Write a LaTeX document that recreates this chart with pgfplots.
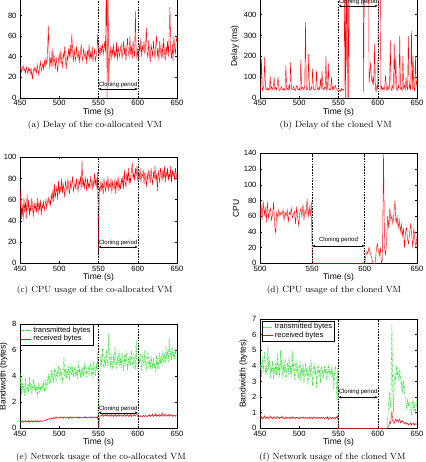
\documentclass[border=0pt]{standalone}
\usepackage{fontspec}
\usepackage{pgfplots}
\pgfplotsset{compat=1.18}
\usetikzlibrary{arrows.meta}
\newfontfamily\hv{Liberation Sans}
\definecolor{mred}{rgb}{1,0,0}
\definecolor{mgreen}{rgb}{0.2,0.9,0.2}
\pgfplotsset{mat/.style={
  scale only axis, width=157pt, xmin=450, xmax=650, ymin=0,
  xtick={450,500,550,600,650},
  tick align=inside, major tick length=2pt,
  axis line style={line width=0.4pt},
  every tick/.style={line width=0.4pt, black},
  ticklabel style={font=\hv\fontsize{7.6}{8}\selectfont},
  /pgf/number format/assume math mode=true,
  label style={font=\hv\fontsize{8.5}{9}\selectfont},
  xlabel={Time (s)},
  xlabel style={yshift=4.5pt},
  xticklabel style={yshift=1pt},
  ylabel style={yshift=-2pt},
  clip=true, scaled ticks=false,
  legend image code/.code={\draw[#1] (0pt,0pt) -- (10pt,0pt);},
}}
\tikzset{
  vline/.style={line width=0.4pt, dash pattern=on 1.6pt off 1.2pt},
  carr/.style={line width=0.4pt, {Stealth[length=3pt,width=2.4pt]}-{Stealth[length=3pt,width=2.4pt]}},
  clab/.style={font=\hv\fontsize{6}{6}\selectfont, inner sep=0.8pt, anchor=south},
  red line/.style={mred, line width=0.42pt},
  green line/.style={mgreen, line width=0.55pt, dash pattern=on 2.5pt off 1pt on 0.6pt off 1pt},
  capt/.style={font=\fontsize{9}{10}\selectfont},
  ex/.style={font=\hv\fontsize{6}{6}\selectfont, anchor=south west, inner sep=0.5pt},
}
\begin{document}
\begin{tikzpicture}
\useasboundingbox (0pt,0pt) rectangle (425pt,462pt);
\clip (0pt,0pt) rectangle (425pt,462pt);

% (a)
\begin{axis}[mat, at={(20pt,364.2pt)}, anchor=south west, height=103pt, ymax=100,
  ytick={0,20,40,60,80,100}, ylabel={Delay (ms)}]
\addplot[red line] coordinates {
(450,27)(451,30)(452,25)(453,29)(454,31)(455,26)(456,28)(457,24)(458,30)(459,27)
(460,23)(461,29)(462,26)(463,28)(464,22)(465,27)(466,18)(467,25)(468,30)(469,26)
(470,28)(471,24)(472,32)(473,27)(474,22)(475,30)(476,35)(477,26)(478,29)(479,33)
(480,28)(481,36)(482,30)(483,38)(484,33)(485,40)(486,70)(487,45)(488,28)(489,38)
(490,33)(491,48)(492,30)(493,42)(494,36)(495,28)(496,40)(497,32)(498,25)(499,37)
(500,42)(501,33)(502,46)(503,35)(504,30)(505,44)(506,38)(507,50)(508,34)(509,28)
(510,41)(511,36)(512,48)(513,40)(514,52)(515,38)(516,62)(517,45)(518,35)(519,48)
(520,40)(521,36)(522,50)(523,42)(524,38)(525,46)(526,34)(527,44)(528,52)(529,40)
(530,36)(531,48)(532,42)(533,38)(534,45)(535,33)(536,46)(537,40)(538,52)(539,36)
(540,44)(541,38)(542,50)(543,35)(544,42)(545,47)(546,36)(547,40)(548,45)(549,62)
(550,44)(551,48)(552,40)(553,50)(554,45)(555,52)(556,42)(557,48)(558,55)(559,44)
(560,130)(561,0)(562,125)(563,15)(564,40)(565,50)(566,36)(567,48)(568,42)(569,52)
(570,38)(571,46)(572,40)(573,54)(574,36)(575,50)(576,44)(577,40)(578,48)(579,52)
(580,38)(581,45)(582,55)(583,42)(584,50)(585,36)(586,48)(587,58)(588,44)(589,40)
(590,60)(591,42)(592,50)(593,38)(594,55)(595,45)(596,40)(597,84)(598,44)(599,38)
(600,48)(601,36)(602,52)(603,44)(604,58)(605,40)(606,50)(607,46)(608,55)(609,42)
(610,50)(611,68)(612,45)(613,38)(614,56)(615,42)(616,35)(617,52)(618,46)(619,40)
(620,55)(621,44)(622,38)(623,52)(624,60)(625,40)(626,48)(627,36)(628,55)(629,45)
(630,40)(631,52)(632,38)(633,58)(634,44)(635,36)(636,50)(637,42)(638,55)(639,40)
(640,62)(641,88)(642,45)(643,38)(644,52)(645,35)(646,60)(647,48)(648,42)(649,58)
(650,55)};
\draw[vline] (axis cs:550,0) -- (axis cs:550,100);
\draw[vline] (axis cs:600,0) -- (axis cs:600,100);
\draw[carr] (axis cs:550,8.5) -- (axis cs:600,8.5) node[clab, midway] {Cloning period};
\end{axis}

% (b)
\begin{axis}[mat, at={(260pt,364.2pt)}, anchor=south west, height=104pt, ymax=500,
  ytick={0,100,200,300,400,500}, ylabel={Delay (ms)}]
\addplot[red line] coordinates {
(450,40)(451,50)(452,185)(453,35)(454,45)(455,60)(456,195)(457,42)(458,38)(459,50)
(460,35)(461,45)(462,40)(463,105)(464,38)(465,55)(466,40)(467,45)(468,100)(469,40)
(470,50)(471,38)(472,60)(473,100)(474,45)(475,35)(476,40)(477,55)(478,42)(479,38)
(480,45)(481,35)(482,50)(483,155)(484,40)(485,45)(486,38)(487,60)(488,40)(489,170)
(490,45)(491,40)(492,38)(493,55)(494,40)(495,35)(496,48)(497,60)(498,42)(499,38)
(500,45)(501,35)(502,185)(503,40)(504,50)(505,42)(506,38)(507,60)(508,365)(509,40)
(510,38)(511,45)(512,210)(513,40)(514,35)(515,50)(516,42)(517,140)(518,45)(519,38)
(520,40)(521,38)(522,130)(523,45)(524,35)(525,50)(526,42)(527,90)(528,40)(529,130)
(530,45)(531,38)(532,50)(533,42)(534,200)(535,35)(536,45)(537,165)(538,40)(539,38)
(540,42)(541,100)(542,38)(543,55)(544,40)(545,50)(546,60)(547,45)(548,40)(549,35)
(550,38)(551,35)(552,40)(553,30)(554,45)(555,38)(556,40)(557,35)(558,600)(559,0)
(560,650)(561,0)(562,620)(563,0)(564,700)(565,800)(566,900)(567,1000)(568,900)(569,800)
(570,900)(575,900)(580,900)(581,800)(582,30)(583,700)(584,900)(585,800)(586,900)(587,850)
(588,800)(589,70)(590,120)(591,170)(592,90)(593,70)(594,100)(595,60)(596,260)(597,40)
(598,30)(599,60)(600,40)(601,600)(602,800)(603,650)(604,35)(605,55)(606,40)(607,50)
(608,35)(609,60)(610,110)(611,45)(612,35)(613,60)(614,40)(615,50)(616,275)(617,40)
(618,35)(619,60)(620,45)(621,265)(622,50)(623,200)(624,40)(625,35)(626,60)(627,45)
(628,300)(629,40)(630,50)(631,35)(632,200)(633,45)(634,60)(635,38)(636,100)(637,50)
(638,40)(639,295)(640,45)(641,60)(642,35)(643,320)(644,40)(645,200)(646,50)(647,35)
(648,200)(649,60)(650,80)};
\draw[vline] (axis cs:550,0) -- (axis cs:550,500);
\draw[vline] (axis cs:600,0) -- (axis cs:600,500);
\draw[carr] (axis cs:550,442) -- (axis cs:600,442) node[clab, midway] {Cloning period};
\end{axis}

% (c)
\begin{axis}[mat, at={(20pt,198.7pt)}, anchor=south west, height=106pt, ymax=100,
  ytick={0,20,40,60,80,100}, ylabel={CPU}]
\addplot[red line] coordinates {
(450,45)(451,70)(452,42)(453,55)(454,40)(455,62)(456,48)(457,58)(458,42)(459,65)
(460,50)(461,60)(462,45)(463,55)(464,48)(465,62)(466,52)(467,44)(468,58)(469,50)
(470,55)(471,48)(472,62)(473,46)(474,58)(475,50)(476,60)(477,45)(478,55)(479,52)
(480,58)(481,50)(482,55)(483,60)(484,52)(485,58)(486,62)(487,56)(488,60)(489,55)
(490,65)(491,60)(492,70)(493,58)(494,75)(495,62)(496,68)(497,72)(498,60)(499,78)
(500,65)(501,72)(502,68)(503,80)(504,66)(505,75)(506,70)(507,62)(508,78)(509,72)
(510,68)(511,80)(512,72)(513,65)(514,78)(515,70)(516,75)(517,82)(518,68)(519,72)
(520,76)(521,70)(522,80)(523,72)(524,68)(525,78)(526,74)(527,82)(528,70)(529,97)
(530,72)(531,78)(532,70)(533,82)(534,75)(535,68)(536,80)(537,72)(538,76)(539,70)
(540,82)(541,75)(542,70)(543,78)(544,72)(545,85)(546,74)(547,80)(548,70)(549,86)
(550,5)(551,72)(552,68)(553,78)(554,70)(555,75)(556,65)(557,80)(558,72)(559,68)
(560,78)(561,70)(562,82)(563,68)(564,75)(565,72)(566,80)(567,66)(568,78)(569,72)
(570,70)(571,80)(572,65)(573,78)(574,72)(575,82)(576,68)(577,76)(578,70)(579,80)
(580,74)(581,82)(582,70)(583,88)(584,76)(585,72)(586,85)(587,78)(588,90)(589,74)
(590,82)(591,76)(592,88)(593,95)(594,80)(595,85)(596,78)(597,90)(598,82)(599,92)
(600,78)(601,85)(602,80)(603,90)(604,76)(605,84)(606,82)(607,88)(608,75)(609,86)
(610,80)(611,72)(612,85)(613,78)(614,88)(615,82)(616,76)(617,90)(618,80)(619,74)
(620,86)(621,80)(622,92)(623,78)(624,84)(625,68)(626,88)(627,82)(628,76)(629,90)
(630,84)(631,78)(632,88)(633,80)(634,92)(635,76)(636,86)(637,82)(638,90)(639,78)
(640,85)(641,80)(642,92)(643,76)(644,88)(645,82)(646,86)(647,78)(648,90)(649,84)
(650,80)};
\draw[vline] (axis cs:550,0) -- (axis cs:550,100);
\draw[vline] (axis cs:600,0) -- (axis cs:600,100);
\draw[carr] (axis cs:550,15.4) -- (axis cs:600,15.4) node[clab, midway] {Cloning period};
\end{axis}

% (d)
\begin{axis}[mat, at={(260pt,198.7pt)}, anchor=south west, height=110pt, xmin=500, ymax=140,
  xtick={500,550,600,650}, ytick={0,20,40,60,80,100,120,140}, ylabel={CPU}]
\addplot[red line] coordinates {
(500,58)(501,75)(502,55)(503,80)(504,60)(505,72)(506,52)(507,78)(508,58)(509,65)
(510,70)(511,55)(512,62)(513,78)(514,48)(515,38)(516,65)(517,58)(518,68)(519,60)
(520,65)(521,62)(522,68)(523,55)(524,65)(525,60)(526,68)(527,52)(528,65)(529,62)
(530,70)(531,58)(532,62)(533,66)(534,50)(535,72)(536,58)(537,48)(538,65)(539,70)
(540,60)(541,75)(542,55)(543,68)(544,62)(545,82)(546,58)(547,72)(548,60)(549,78)
(550,0)(599,0)
(600,0)(601,8)(602,15)(603,12)(604,20)(605,15)(606,10)(607,5)(608,0)(609,0)
(610,0)(611,15)(612,25)(613,18)(614,10)(615,20)(616,0)(617,5)(618,140)(619,20)
(620,10)(621,30)(622,60)(623,45)(624,70)(625,55)(626,60)(627,50)(628,65)(629,80)
(630,50)(631,60)(632,45)(633,55)(634,40)(635,50)(636,35)(637,45)(638,20)(639,40)
(640,45)(641,30)(642,25)(643,40)(644,50)(645,35)(646,20)(647,45)(648,30)(649,20)
(650,35)};
\draw[vline] (axis cs:550,0) -- (axis cs:550,140);
\draw[vline] (axis cs:600,0) -- (axis cs:600,140);
\draw[carr] (axis cs:550,22) -- (axis cs:600,22) node[clab, midway, yshift=2pt] {Cloning period};
\end{axis}

% (e)
\begin{axis}[mat, at={(20pt,33.7pt)}, anchor=south west, height=104pt, ymax=8,
  ytick={0,2,4,6,8}, ylabel={Bandwidth (bytes)},
  legend style={at={(rel axis cs:0,1)}, anchor=north west, draw=black, line width=0.4pt,
    font=\hv\fontsize{7.5}{8}\selectfont, inner sep=0.6pt, row sep=-2.5pt},
  legend cell align=left]
\addplot[green line] coordinates {
(450,3.0)(451,4.2)(452,2.6)(453,3.5)(454,2.8)(455,3.2)(456,2.5)(457,3.8)(458,3.0)(459,2.7)
(460,3.4)(461,2.8)(462,4.0)(463,3.0)(464,3.5)(465,2.6)(466,3.2)(467,3.8)(468,2.9)(469,3.4)
(470,2.8)(471,3.2)(472,2.5)(473,3.0)(474,3.5)(475,2.7)(476,3.2)(477,2.9)(478,3.4)(479,3.1)
(480,3.6)(481,2.8)(482,3.3)(483,3.8)(484,3.0)(485,3.5)(486,4.2)(487,3.3)(488,3.9)(489,3.6)
(490,4.5)(491,3.8)(492,4.2)(493,3.5)(494,4.6)(495,4.0)(496,3.7)(497,4.4)(498,3.9)(499,4.8)
(500,4.2)(501,3.8)(502,4.6)(503,4.0)(504,3.6)(505,4.4)(506,5.5)(507,4.0)(508,4.6)(509,3.8)
(510,4.5)(511,4.0)(512,4.8)(513,3.7)(514,4.3)(515,5.0)(516,4.1)(517,4.6)(518,3.9)(519,4.4)
(520,4.8)(521,4.0)(522,4.4)(523,3.8)(524,5.2)(525,4.2)(526,4.6)(527,3.9)(528,4.5)(529,4.1)
(530,4.6)(531,4.0)(532,5.0)(533,4.3)(534,4.7)(535,3.9)(536,4.5)(537,4.8)(538,4.1)(539,4.4)
(540,4.9)(541,4.2)(542,4.6)(543,3.8)(544,5.2)(545,4.4)(546,4.0)(547,5.0)(548,4.5)(549,5.8)
(550,0.4)(551,2.5)(552,4.5)(553,5.6)(554,4.8)(555,6.2)(556,5.0)(557,4.6)(558,5.5)(559,4.8)
(560,6.0)(561,5.2)(562,4.8)(563,7.3)(564,5.5)(565,4.6)(566,5.8)(567,5.0)(568,4.7)(569,5.6)
(570,4.9)(571,6.3)(572,5.2)(573,4.6)(574,5.5)(575,5.0)(576,6.0)(577,4.8)(578,5.3)(579,4.6)
(580,5.8)(581,5.0)(582,4.4)(583,5.6)(584,4.8)(585,6.0)(586,5.2)(587,4.5)(588,5.4)(589,4.9)
(590,5.6)(591,4.8)(592,6.0)(593,5.1)(594,4.6)(595,5.8)(596,5.0)(597,4.5)(598,6.8)(599,4.7)
(600,4.6)(601,5.4)(602,4.9)(603,5.8)(604,5.0)(605,4.4)(606,5.6)(607,5.2)(608,4.8)(609,6.0)
(610,5.0)(611,4.6)(612,5.4)(613,5.8)(614,4.8)(615,5.2)(616,4.5)(617,5.6)(618,5.0)(619,4.7)
(620,5.4)(621,4.6)(622,5.0)(623,4.3)(624,5.6)(625,4.8)(626,5.2)(627,4.5)(628,5.8)(629,5.0)
(630,5.5)(631,4.8)(632,6.0)(633,5.2)(634,5.6)(635,5.0)(636,6.3)(637,5.4)(638,5.8)(639,5.1)
(640,7.0)(641,5.5)(642,5.9)(643,5.2)(644,6.2)(645,5.5)(646,5.8)(647,5.3)(648,6.0)(649,5.6)
(650,5.5)};
\addlegendentry{transmitted bytes}
\addplot[red line] coordinates {
(450,.45)(451,.55)(452,.5)(453,.6)(454,.45)(455,.55)(456,.5)(457,.6)(458,.48)(459,.55)
(460,.5)(461,.6)(462,.45)(463,.55)(464,.5)(465,.6)(466,.48)(467,.55)(468,.5)(469,.6)
(470,.55)(471,.5)(472,.6)(473,.48)(474,.55)(475,.5)(476,.6)(477,.55)(478,.5)(479,.58)
(480,.55)(481,.6)(482,.65)(483,.6)(484,.7)(485,.65)(486,.72)(487,.68)(488,.75)(489,.7)
(490,.8)(491,.72)(492,.78)(493,.85)(494,.75)(495,.8)(496,.9)(497,.76)(498,.82)(499,.78)
(500,.85)(501,.78)(502,.9)(503,.8)(504,.85)(505,.75)(506,.9)(507,.82)(508,.78)(509,.86)
(510,.8)(511,.88)(512,.75)(513,.85)(514,.8)(515,.9)(516,.78)(517,.84)(518,.8)(519,.88)
(520,.82)(521,.78)(522,.86)(523,.8)(524,.9)(525,.76)(526,.85)(527,.8)(528,.88)(529,.82)
(530,.78)(531,.86)(532,.8)(533,.92)(534,.8)(535,.85)(536,.78)(537,.88)(538,.82)(539,.86)
(540,.8)(541,.9)(542,.78)(543,.85)(544,.8)(545,.88)(546,.82)(547,.86)(548,.8)(549,.9)
(550,.1)(551,.6)(552,.9)(553,1.0)(554,.95)(555,1.1)(556,.9)(557,1.0)(558,.95)(559,1.05)
(560,.95)(561,1.1)(562,.9)(563,1.0)(564,1.05)(565,.92)(566,1.1)(567,.95)(568,1.0)(569,.9)
(570,1.05)(571,.95)(572,1.1)(573,.9)(574,1.0)(575,.95)(576,1.08)(577,.92)(578,1.0)(579,1.05)
(580,.9)(581,1.0)(582,.95)(583,1.1)(584,.92)(585,1.0)(586,.95)(587,1.05)(588,.9)(589,1.0)
(590,.95)(591,1.1)(592,.9)(593,1.0)(594,1.05)(595,.92)(596,1.0)(597,.95)(598,1.1)(599,1.15)
(600,.9)(601,1.0)(602,.95)(603,.85)(604,1.0)(605,.92)(606,.88)(607,1.0)(608,.95)(609,.9)
(610,1.0)(611,.92)(612,.88)(613,1.0)(614,.95)(615,1.05)(616,.9)(617,1.0)(618,.95)(619,1.1)
(620,.9)(621,1.0)(622,.95)(623,1.15)(624,.92)(625,1.0)(626,.95)(627,1.1)(628,.9)(629,1.0)
(630,.95)(631,1.2)(632,.92)(633,1.05)(634,.98)(635,1.1)(636,.9)(637,1.0)(638,.95)(639,1.05)
(640,.92)(641,1.1)(642,.95)(643,1.0)(644,.9)(645,1.05)(646,.95)(647,1.0)(648,.92)(649,.98)
(650,.95)};
\addlegendentry{received bytes}
\draw[vline] (axis cs:550,0) -- (axis cs:550,8);
\draw[vline] (axis cs:600,0) -- (axis cs:600,8);
\draw[carr] (axis cs:550,1.2) -- (axis cs:600,1.2) node[clab, midway] {Cloning period};
\node[ex] at (rel axis cs:0,1) {x 10\textsuperscript{6}};
\end{axis}

% (f)
\begin{axis}[mat, at={(260pt,33.7pt)}, anchor=south west, height=109.3pt, ymax=7,
  ytick={0,1,2,3,4,5,6,7}, ylabel={Bandwidth (bytes)},
  legend style={at={(rel axis cs:0.01,0.985)}, anchor=north west, draw=black, line width=0.4pt,
    font=\hv\fontsize{7.5}{8}\selectfont, inner sep=0.6pt, row sep=-2.5pt},
  legend cell align=left]
\addplot[green line] coordinates {
(450,3.8)(451,4.1)(452,3.3)(453,4.6)(454,3.6)(455,4.2)(456,4.9)(457,3.5)(458,4.0)(459,3.4)
(460,5.3)(461,3.8)(462,4.4)(463,3.2)(464,4.0)(465,3.6)(466,4.3)(467,3.1)(468,3.9)(469,3.5)
(470,4.2)(471,3.4)(472,4.8)(473,3.6)(474,4.1)(475,3.3)(476,5.0)(477,3.8)(478,4.4)(479,3.2)
(480,4.0)(481,3.6)(482,4.5)(483,3.0)(484,3.8)(485,4.2)(486,3.4)(487,4.6)(488,3.5)(489,4.0)
(490,3.3)(491,5.0)(492,3.7)(493,4.2)(494,3.1)(495,3.9)(496,4.4)(497,3.5)(498,4.0)(499,3.2)
(500,3.8)(501,4.3)(502,3.0)(503,3.9)(504,3.5)(505,4.1)(506,2.9)(507,3.7)(508,4.2)(509,3.4)
(510,3.9)(511,2.8)(512,3.6)(513,4.0)(514,3.3)(515,4.4)(516,3.6)(517,2.7)(518,3.8)(519,4.2)
(520,3.4)(521,3.9)(522,2.6)(523,3.7)(524,4.1)(525,3.3)(526,3.8)(527,2.9)(528,4.0)(529,3.5)
(530,3.7)(531,3.2)(532,4.0)(533,3.5)(534,3.8)(535,3.1)(536,3.6)(537,4.1)(538,3.3)(539,3.7)
(540,3.5)(541,3.9)(542,3.2)(543,3.8)(544,2.5)(545,3.6)(546,4.0)(547,3.3)(548,1.8)(549,3.9)
(550,0)(611,0)(612,0.3)(613,0.8)(614,1.6)(615,2.3)(616,1.3)(617,2.0)(618,6.7)(619,2.5)
(620,1.0)(621,2.8)(622,3.5)(623,3.0)(624,4.0)(625,3.4)(626,3.6)(627,3.0)(628,3.8)(629,3.2)
(630,2.6)(631,3.0)(632,2.2)(633,3.1)(634,2.4)(635,2.0)(636,1.6)(637,1.2)(638,1.8)(639,1.4)
(640,1.7)(641,1.5)(642,1.2)(643,0.9)(644,1.6)(645,1.8)(646,1.1)(647,1.5)(648,1.0)(649,1.4)
(650,1.8)};
\addlegendentry{transmitted bytes}
\addplot[red line] coordinates {
(450,.7)(451,.65)(452,.75)(453,.6)(454,.72)(455,.68)(456,.8)(457,.62)(458,.7)(459,.66)
(460,.74)(461,.6)(462,.7)(463,.78)(464,.65)(465,.72)(466,.6)(467,.7)(468,.75)(469,.64)
(470,.7)(471,.62)(472,.76)(473,.68)(474,.72)(475,.6)(476,.7)(477,.66)(478,.78)(479,.64)
(480,.7)(481,.6)(482,.68)(483,.74)(484,.62)(485,.7)(486,.66)(487,.72)(488,.6)(489,.7)
(490,.65)(491,.74)(492,.6)(493,.7)(494,.68)(495,.62)(496,.72)(497,.66)(498,.7)(499,.6)
(500,.68)(501,.72)(502,.62)(503,.7)(504,.66)(505,.74)(506,.6)(507,.68)(508,.72)(509,.64)
(510,.7)(511,.6)(512,.66)(513,.72)(514,.62)(515,.7)(516,.68)(517,.6)(518,.74)(519,.66)
(520,.7)(521,.62)(522,.68)(523,.72)(524,.6)(525,.66)(526,.7)(527,.64)(528,.72)(529,.62)
(530,.68)(531,.72)(532,.6)(533,.66)(534,.7)(535,.62)(536,.74)(537,.56)(538,.68)(539,.64)
(540,.7)(541,.6)(542,.66)(543,.72)(544,.62)(545,.68)(546,.6)(547,.74)(548,.66)(549,.8)
(550,0)(612,0)(613,0.1)(614,0.2)(615,0.4)(616,0.3)(617,0.6)(618,1.1)(619,0.5)
(620,.4)(621,.3)(622,.5)(623,.6)(624,.45)(625,.55)(626,.4)(627,.5)(628,.6)(629,.35)
(630,.45)(631,.4)(632,.5)(633,.35)(634,.3)(635,.4)(636,.25)(637,.35)(638,.3)(639,.2)
(640,.3)(641,.25)(642,.35)(643,.2)(644,.3)(645,.25)(646,.35)(647,.2)(648,.3)(649,.25)
(650,.3)};
\addlegendentry{received bytes}
\draw[vline] (axis cs:550,0) -- (axis cs:550,7);
\draw[vline] (axis cs:600,0) -- (axis cs:600,7);
\draw[carr] (axis cs:550,1.99) -- (axis cs:600,1.99) node[clab, midway, yshift=1.5pt] {Cloning period};
\node[ex] at (rel axis cs:0,1) {x 10\textsuperscript{6}};
\end{axis}

\node[capt] at (95pt,337pt) {(a) Delay of the co-allocated VM};
\node[capt] at (335.8pt,337pt) {(b) Delay of the cloned VM};
\node[capt] at (94.8pt,171.3pt) {(c) CPU usage of the co-allocated VM};
\node[capt] at (334pt,171.3pt) {(d) CPU usage of the cloned VM};
\node[capt] at (101pt,4.7pt) {(e) Network usage of the co-allocated VM};
\node[capt] at (332.5pt,4.7pt) {(f) Network usage of the cloned VM};
\end{tikzpicture}
\end{document}
